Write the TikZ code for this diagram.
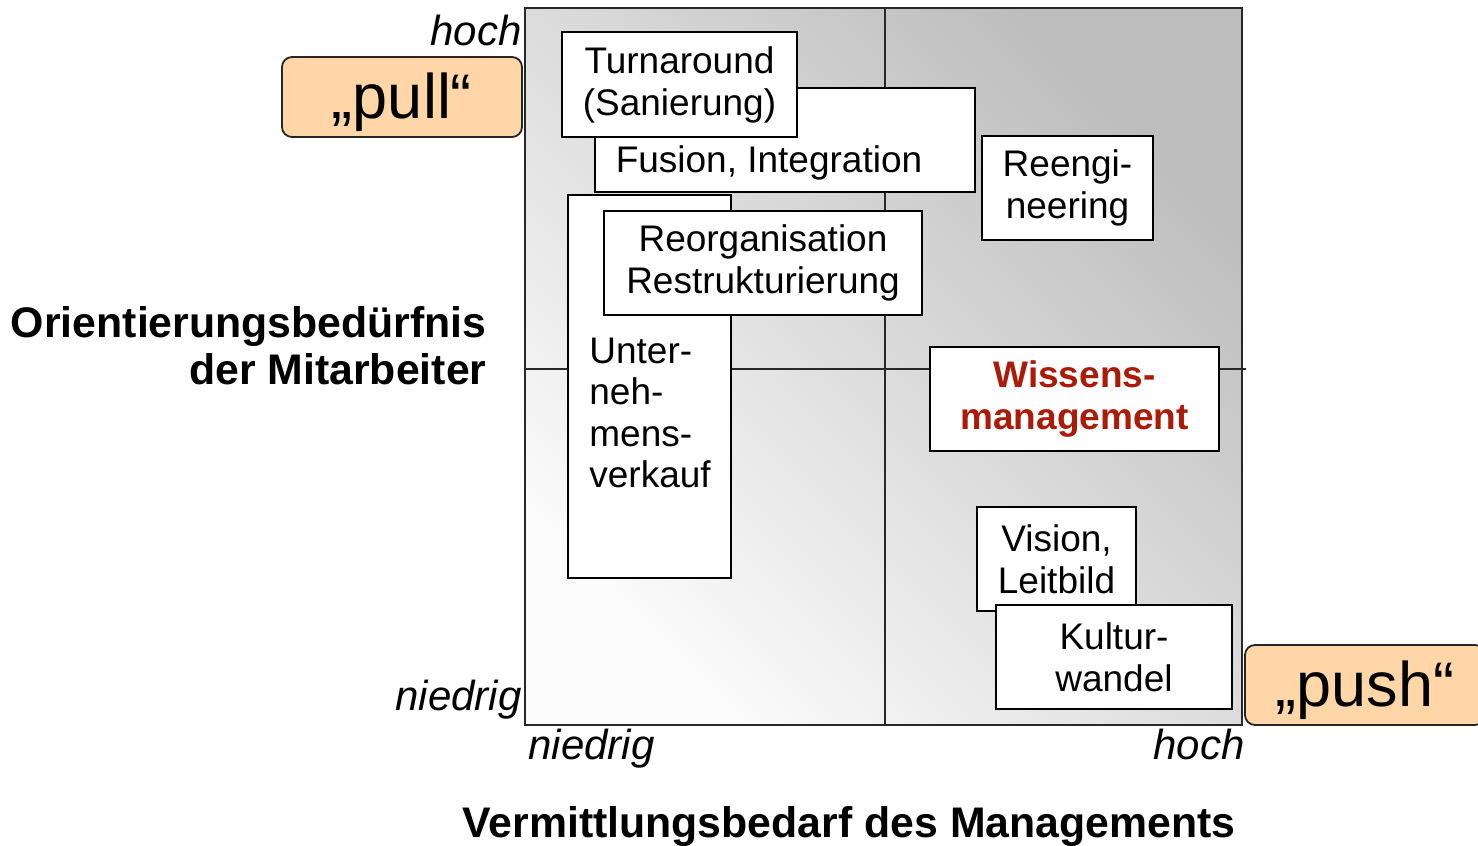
\documentclass[tikz,border=0pt]{standalone}
\usepackage{fontspec}
\setmainfont{Liberation Sans}
\usetikzlibrary{positioning}
\definecolor{qdred}{RGB}{172,26,8}
\definecolor{qdpeach}{RGB}{255,214,168}
\definecolor{qdframe}{RGB}{40,40,40}
\tikzset{
  box/.style={draw=black, line width=0.9pt, fill=white, inner sep=0pt,
              align=center, font=\fontsize{18.5}{21}\selectfont},
  plain/.style={},
  hot/.style={font=\fontsize{18.5}{21}\selectfont\bfseries, text=qdred},
  boxtext/.style={inner sep=0pt, align=left, font=\fontsize{18.5}{20.8}\selectfont},
  tag/.style={inner sep=0pt, font=\fontsize{21}{24}\selectfont\itshape},
  axistitle/.style={inner sep=0pt, align=right, font=\fontsize{21.4}{23.5}\selectfont\bfseries},
  pole/.style={draw=black!85, line width=0.9pt, fill=qdpeach, rounded corners=5pt,
               minimum width=120pt, minimum height=40pt, inner sep=0pt,
               text height=25pt, text depth=4pt,
               font=\fontsize{31.5}{36}\selectfont},
}

\begin{document}
\begin{tikzpicture}[x=0.5pt,y=-0.5pt]
\useasboundingbox (0,0) rectangle (1478,846);
% quadrant field
\coordinate (nw) at (525,8);
\coordinate (se) at (1242,725);
\shade[shading=axis, top color=gray!52, bottom color=gray!3, shading angle=-45]
  (nw) rectangle (se);
\draw[qdframe, line width=0.9pt] (nw) rectangle (se);
\coordinate (vtop) at (885,8);
\coordinate (vbot) at (885,725);
\coordinate (hleft) at (525,369);
\coordinate (hright) at (1246,369);
\draw[qdframe, line width=0.9pt] (vtop) -- (vbot);
\draw[qdframe, line width=0.9pt] (hleft) -- (hright);
% measures, back to front
\foreach \n/\cx/\cy/\w/\h/\sty/\txt in {
  fusion/785/140/190/52/plain/{},
  turn/679.5/84.5/117.5/52.5/plain/{Turnaround\\(Sanierung)},
  reeng/1067.5/188/85.5/52/plain/{Reengi-\\neering},
  verk/649.5/386.5/81.5/191.5/plain/{},
  reorg/763/263/159/52/plain/{Reorganisation\\Restrukturierung},
  wissen/1074.5/399/144.5/52/hot/{Wissens-\\management},
  vision/1056.5/559/79.5/52/plain/{Vision,\\Leitbild},
  kultur/1114/657/118/52/plain/{Kultur-\\wandel}}
{
  \node[box, \sty, minimum width=\w pt, minimum height=\h pt] (\n) at (\cx,\cy) {\txt};
}
\node[boxtext, anchor=base] (fusiontxt) at (769,172) {Fusion, Integration};
\node[boxtext, anchor=west] (verktxt) at (589,413) {Unter-\\neh-\\mens-\\verkauf};
% axis ends
\node[tag, anchor=base east] (yhigh) at (522,46) {hoch};
\node[tag, anchor=base east] (ylow) at (522,710) {niedrig};
\node[tag, anchor=base west] (xlow) at (528,759) {niedrig};
\node[tag, anchor=base east] (xhigh) at (1245,759) {hoch};
% axis titles
\node[axistitle, anchor=base east] (ytitle) at (487,384)
  {Orientierungsbedürfnis\\der Mitarbeiter};
\node[axistitle, anchor=base] (xtitle) at (849,837)
  {Vermittlungsbedarf des Managements};
% pull / push
\node[pole] (pull) at (402,97) {„pull“};
\node[pole] (push) at (1365,685) {„push“};
\end{tikzpicture}
\end{document}
